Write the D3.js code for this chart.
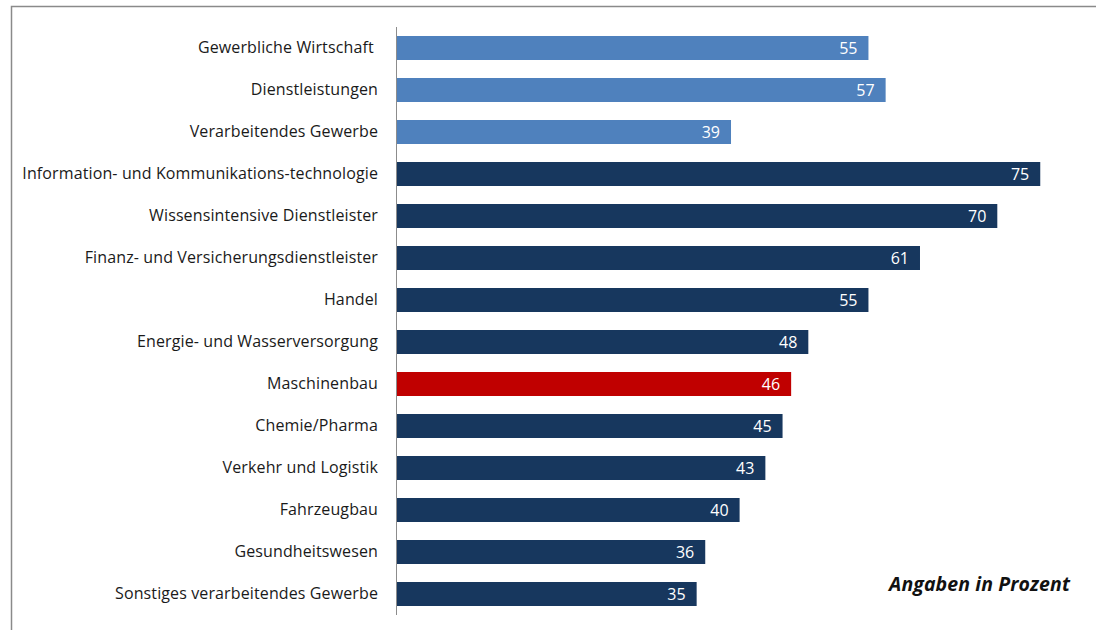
<!DOCTYPE html>
<html><head><meta charset="utf-8">
<script src="https://cdn.jsdelivr.net/npm/d3@7"></script>
<style>body{margin:0;background:#fff}svg{display:block}</style>
</head><body>
<svg id="c" width="1096" height="630"></svg>
<script>
const categories = ["Gewerbliche Wirtschaft ","Dienstleistungen","Verarbeitendes Gewerbe","Information- und Kommunikations-technologie","Wissensintensive Dienstleister","Finanz- und Versicherungsdienstleister","Handel","Energie- und Wasserversorgung","Maschinenbau","Chemie/Pharma","Verkehr und Logistik","Fahrzeugbau","Gesundheitswesen","Sonstiges verarbeitendes Gewerbe"];
const values = [55,57,39,75,70,61,55,48,46,45,43,40,36,35];
const groups = ["total","total","total","branch","branch","branch","branch","branch","focus","branch","branch","branch","branch","branch"];
const colorMap = {total:"#4F81BD", branch:"#17375E", focus:"#C00000"};
const note = "Angaben in Prozent";

const svg = d3.select("#c");
svg.append("path").attr("d","M11.5,630 V6.5 H1096").attr("fill","none").attr("stroke","#8a8a8a").attr("stroke-width",1.5);

const x = d3.scaleLinear().domain([0,80]).range([396, 396+8.59*80]);
const y = d3.scaleBand().domain(categories).range([27,615]).paddingInner(18/42).paddingOuter(9/42);
const font = "'Open Sans', 'Noto Sans', sans-serif";

svg.selectAll("rect.bar").data(categories).join("rect")
  .attr("x", x(0)).attr("y", d=>y(d)).attr("height", y.bandwidth())
  .attr("width", (d,i)=>x(values[i])-x(0))
  .attr("fill",(d,i)=>colorMap[groups[i]]);

svg.selectAll("text.val").data(categories).join("text")
  .attr("x",(d,i)=>x(values[i])-11).attr("y", d=>y(d)+y.bandwidth()/2)
  .attr("dy","0.36em").attr("text-anchor","end").attr("fill","#fff")
  .style("font-family",font).style("font-size","16px").text((d,i)=>values[i]);

const yAxis = d3.axisLeft(y).tickSize(0).tickPadding(18);
const ga = svg.append("g").attr("transform",`translate(${x(0)},0)`).call(yAxis);
ga.select(".domain").attr("stroke","#8c8c8c").attr("stroke-width",1).attr("d","M0.5,27V615");
ga.selectAll("text").style("font-family",font).style("font-size","16px").style("letter-spacing","0.12px")
  .attr("fill","#1a1a1a").style("white-space","pre");

svg.append("text").attr("x",1070).attr("y",591).attr("text-anchor","end")
  .style("font-family",font).style("font-size","19.5px").style("font-weight","bold").style("font-style","italic")
  .style("letter-spacing","0.1px").attr("fill","#111").text(note);
</script>
</body></html>
